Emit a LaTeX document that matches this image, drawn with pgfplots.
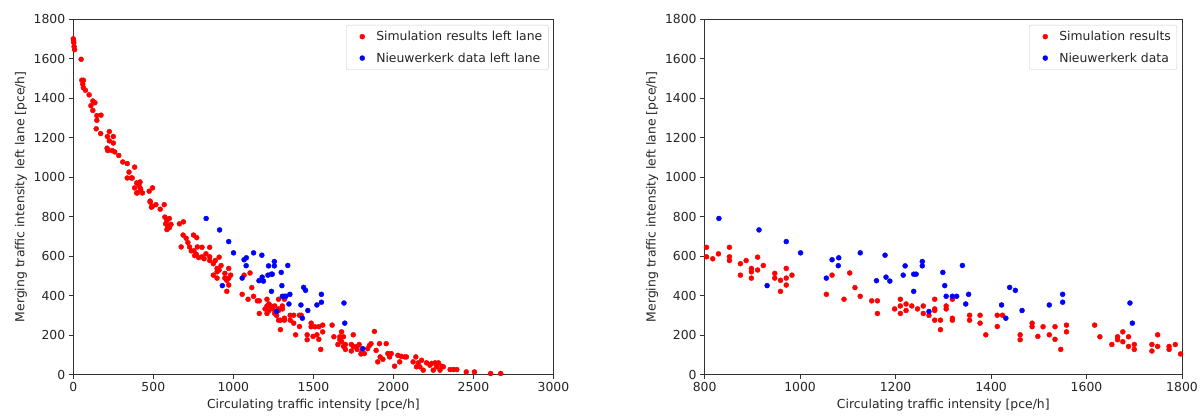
\documentclass[border=0pt]{standalone}
\usepackage{fontspec}
\setmainfont{DejaVu Sans}
\usepackage{pgfplots}
\usepackage{pgfplotstable}
\pgfplotsset{compat=1.18}

\newcommand\chartfont{\fontsize{12.4}{14.5}\selectfont}

% Simulated merging flow (left lane) against circulating flow
\pgfplotstableread{
x y
0 1700
2 1690
3 1680
5 1660
8 1645
49 1596
53 1490
63 1490
59 1470
63 1452
76 1439
99 1416
122 1385
135 1376
110 1361
122 1337
147 1311
173 1313
147 1287
143 1244
171 1220
225 1230
213 1205
250 1205
225 1183
250 1172
211 1146
215 1134
242 1134
259 1127
284 1109
309 1076
337 1068
383 1050
348 1025
337 995
362 995
368 995
396 970
417 975
383 945
417 945
396 919
432 919
474 928
495 945
480 878
410 961
400 920
421 936
480 873
495 852
516 860
543 837
568 860
488 847
572 797
585 780
600 790
577 763
589 753
585 734
600 743
610 760
663 763
688 773
686 706
705 690
716 668
674 646
726 646
737 626
754 626
768 609
751 706
771 693
775 646
783 592
758 602
804 644
804 596
817 586
829 611
852 644
852 596
852 577
875 561
875 503
887 577
898 537
898 520
898 488
911 594
911 529
923 552
947 512
947 488
959 477
959 421
971 537
971 488
971 453
983 503
1055 406
1067 503
1092 381
1104 514
1115 440
1126 396
1150 373
1162 373
1162 309
1198 332
1210 381
1210 347
1210 309
1222 357
1222 324
1234 347
1246 332
1258 347
1258 309
1270 299
1282 381
1282 332
1282 324
1282 275
1294 275
1294 227
1306 347
1306 332
1319 381
1319 285
1319 275
1355 300
1355 275
1377 300
1377 260
1389 201
1413 300
1413 243
1424 300
1461 201
1461 176
1486 260
1486 242
1498 193
1509 242
1522 201
1534 242
1534 178
1546 127
1558 250
1558 216
1617 250
1628 191
1653 152
1665 191
1665 176
1676 216
1676 166
1688 191
1688 142
1700 152
1700 127
1737 152
1737 119
1749 201
1749 142
1773 142
1773 127
1786 152
1797 104
1803 114
1818 106
1839 131
1850 147
1860 156
1881 218
1892 122
1902 64
1913 156
1917 89
1934 77
1955 156
1965 106
1976 89
1986 106
2007 42
2028 97
2039 64
2049 92
2070 89
2081 89
2123 64
2140 89
2144 39
2155 59
2165 39
2176 72
2186 22
2207 59
2228 47
2239 56
2249 22
2260 59
2270 39
2281 59
2291 22
2302 42
2312 39
2354 25
2375 25
2396 25
2455 13
2506 13
2607 5
2670 5
}\simdata

% Field measurements at Nieuwerkerk (left lane)
\pgfplotstableread{
x y
830 790
914 732
971 673
1001 616
931 450
1055 488
1067 581
1081 591
1080 551
1126 616
1160 475
1178 604
1180 493
1188 473
1216 503
1220 550
1238 508
1243 508
1238 421
1256 572
1256 550
1270 319
1299 517
1303 450
1306 396
1319 396
1328 396
1340 552
1353 406
1347 357
1439 441
1451 426
1422 352
1431 285
1465 324
1522 352
1550 406
1550 366
1691 362
1696 260
1808 131
}\nwkdata

\pgfplotsset{
  scatterpanel/.style={
    scale only axis,
    height=355.5pt,
    anchor=south west,
    ymin=0, ymax=1800,
    ytick={0,200,...,1800},
    tick align=outside,
    tick pos=left,
    major tick length=4.5pt,
    axis line style={black!80, line width=0.9pt},
    every tick/.style={black!80, line width=0.9pt},
    tick label style={font=\chartfont, text=black!85},
    label style={font=\chartfont, text=black!85},
    /pgf/number format/assume math mode=true,
    /pgf/number format/1000 sep={},
    xlabel={Circulating traffic intensity [pce/h]},
    ylabel={Merging traffic intensity left lane [pce/h]},
    legend cell align=left,
    legend style={
      at={(1,1)}, anchor=north east, xshift=-5pt, yshift=-6pt,
      draw=black!20, rounded corners=2pt, fill=white,
      font=\chartfont, text=black!85, row sep=6.5pt,
      inner xsep=4pt, inner ysep=4pt,
    },
    legend image code/.code={
      \path[draw=none] (0pt,0pt) -- (24pt,0pt);
      \draw[##1] plot coordinates {(12pt,0pt)};
    },
  },
  simstyle/.style={only marks, mark=*, mark size=2.5pt, color=red},
  nwkstyle/.style={only marks, mark=*, mark size=2.5pt, color=blue},
}

\begin{document}
\begin{tikzpicture}[x=1pt, y=1pt]
\useasboundingbox (0,0) rectangle (1203,418);

\begin{axis}[scatterpanel,
  at={(73.3pt,43.5pt)}, width=480.2pt,
  xmin=0, xmax=3000, xtick={0,500,...,3000}]
\addplot[simstyle] table[x=x, y=y] {\simdata};
\addlegendentry{Simulation results left lane}
\addplot[nwkstyle] table[x=x, y=y] {\nwkdata};
\addlegendentry{Nieuwerkerk data left lane}
\end{axis}

\begin{axis}[scatterpanel,
  at={(704.6pt,43.5pt)}, width=477.4pt,
  xmin=800, xmax=1800, xtick={800,1000,...,1800}]
\addplot[simstyle, restrict x to domain=800:1800] table[x=x, y=y] {\simdata};
\addlegendentry{Simulation results}
\addplot[nwkstyle, restrict x to domain=800:1800] table[x=x, y=y] {\nwkdata};
\addlegendentry{Nieuwerkerk data}
\end{axis}
\end{tikzpicture}
\end{document}
